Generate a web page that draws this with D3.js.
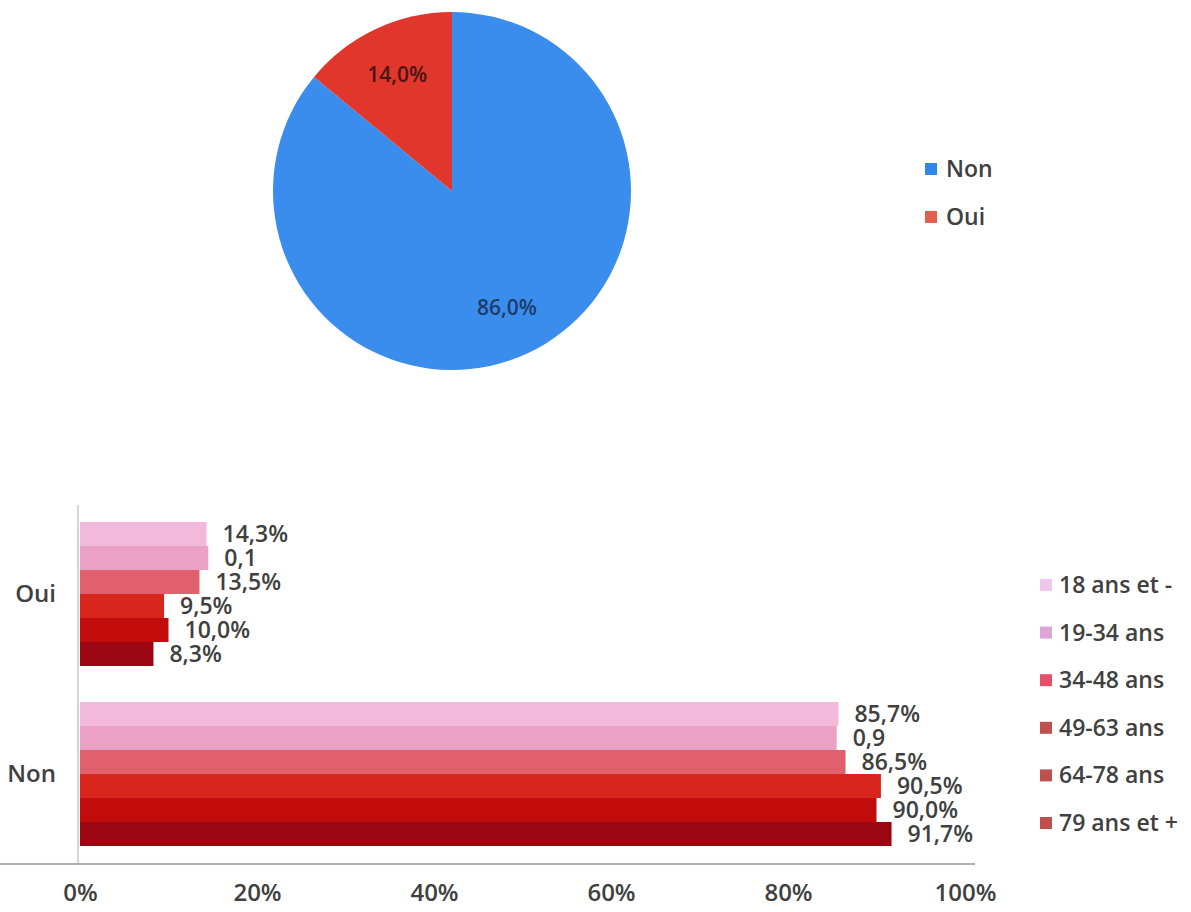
<!DOCTYPE html>
<html>
<head>
<meta charset="utf-8">
<script src="https://cdn.jsdelivr.net/npm/d3@7"></script>
<style>
  body { margin: 0; background: #fff; }
  svg text { font-family: "Open Sans", sans-serif; fill: #404040; }
</style>
</head>
<body>
<svg id="chart" width="1191" height="912"></svg>
<script>
// pie data
var pieLabels = ["Non", "Oui"];
var pieValues = [86.0, 14.0];
var pieText = ["86,0%", "14,0%"];
var pieColors = ["#3b8ded", "#e0362c"];
var pieLegendColors = ["#2f86e8", "#e0604f"];
var pieTextColors = ["#1d3b6b", "#4a1512"];

// bar data
var categories = ["Oui", "Non"];
var ageGroups = ["18 ans et -", "19-34 ans", "34-48 ans", "49-63 ans", "64-78 ans", "79 ans et +"];
var ouiValues = [14.3, 14.5, 13.5, 9.5, 10.0, 8.3];
var nonValues = [85.7, 85.5, 86.5, 90.5, 90.0, 91.7];
var ouiText = ["14,3%", "0,1", "13,5%", "9,5%", "10,0%", "8,3%"];
var nonText = ["85,7%", "0,9", "86,5%", "90,5%", "90,0%", "91,7%"];
var barColors = ["#f3b9da", "#eba0c6", "#e0606e", "#d8261e", "#c20c0c", "#9c0612"];
var legendColors = ["#f0c6ea", "#dea6d6", "#e8506a", "#c0504d", "#c0504d", "#c0504d"];
var xTicks = [0, 20, 40, 60, 80, 100];

var svg = d3.select("#chart");

// ---- pie ----
var cx = 452, cy = 191, R = 179;
var pie = d3.pie().sort(null).value(function(d) { return d; });
var arc = d3.arc().innerRadius(0).outerRadius(R);
var labelArc = d3.arc().innerRadius(R * 0.72).outerRadius(R * 0.72);
var pg = svg.append("g").attr("transform", "translate(" + cx + "," + cy + ")");
var arcs = pie(pieValues);
pg.selectAll("path").data(arcs).enter().append("path")
  .attr("d", arc)
  .attr("fill", function(d, i) { return pieColors[i]; });
pg.selectAll("text").data(arcs).enter().append("text")
  .attr("transform", function(d) { return "translate(" + labelArc.centroid(d) + ")"; })
  .attr("text-anchor", "middle")
  .attr("dy", "0.35em")
  .style("font-size", "21px")
  .style("font-weight", "600")
  .style("fill", function(d, i) { return pieTextColors[i]; })
  .text(function(d, i) { return pieText[i]; });

var pl = svg.append("g");
pieLabels.forEach(function(lab, i) {
  var y = 169 + i * 48;
  pl.append("rect").attr("x", 925).attr("y", y - 6).attr("width", 12).attr("height", 12)
    .attr("fill", pieLegendColors[i]);
  pl.append("text").attr("x", 946).attr("y", y).attr("dy", "0.35em")
    .style("font-size", "23px").style("font-weight", "600").text(lab);
});

// ---- bars ----
var x = d3.scaleLinear().domain([0, 100]).range([80, 965]);
var y = d3.scaleBand().domain(categories).range([504, 864]).paddingInner(0.2).paddingOuter(0.1);
var y1 = d3.scaleBand().domain(ageGroups).range([0, y.bandwidth()]);

var rows = [
  { cat: "Oui", values: ouiValues, text: ouiText },
  { cat: "Non", values: nonValues, text: nonText }
];

var bg = svg.append("g");
rows.forEach(function(row) {
  var g = bg.append("g").attr("transform", "translate(0," + y(row.cat) + ")");
  g.selectAll("rect").data(row.values).enter().append("rect")
    .attr("x", x(0))
    .attr("y", function(d, i) { return y1(ageGroups[i]); })
    .attr("width", function(d) { return x(d) - x(0); })
    .attr("height", y1.bandwidth())
    .attr("fill", function(d, i) { return barColors[i]; });
  g.selectAll("text").data(row.values).enter().append("text")
    .attr("x", function(d) { return x(d) + 16; })
    .attr("y", function(d, i) { return y1(ageGroups[i]) + y1.bandwidth() / 2; })
    .attr("dy", "0.35em")
    .style("font-size", "23px").style("font-weight", "600")
    .text(function(d, i) { return row.text[i]; });
});

// category labels
svg.append("g").selectAll("text").data(categories).enter().append("text")
  .attr("x", 56)
  .attr("y", function(d) { return y(d) + y.bandwidth() / 2; })
  .attr("dy", "0.35em")
  .attr("text-anchor", "end")
  .style("font-size", "24px").style("font-weight", "600")
  .text(function(d) { return d; });

// axis lines
svg.append("line").attr("x1", 78).attr("x2", 78).attr("y1", 505).attr("y2", 864)
  .attr("stroke", "#c8c8c8").attr("stroke-width", 1.5);
var xAxis = d3.axisBottom(x).tickValues(xTicks)
  .tickFormat(function(d) { return d + "%"; })
  .tickSize(0).tickPadding(20);
var ax = svg.append("g").attr("transform", "translate(0,864)").call(xAxis);
ax.select(".domain").attr("stroke", "#b0b0b0").attr("stroke-width", 2)
  .attr("d", "M-2,0H975");
ax.selectAll("text").style("font-size", "24px").style("font-weight", "600")
  .style("font-family", "'Open Sans', sans-serif").attr("fill", "#404040");

// bar legend
var bl = svg.append("g");
ageGroups.forEach(function(lab, i) {
  var yy = 585 + i * 47.6;
  bl.append("rect").attr("x", 1040).attr("y", yy - 6).attr("width", 12).attr("height", 12)
    .attr("fill", legendColors[i]);
  bl.append("text").attr("x", 1059).attr("y", yy).attr("dy", "0.35em")
    .style("font-size", "23px").style("font-weight", "600").text(lab);
});
</script>
</body>
</html>
